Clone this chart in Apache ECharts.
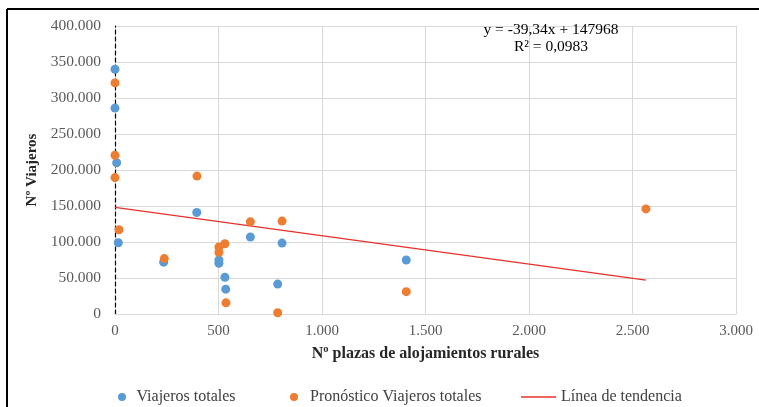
<!DOCTYPE html>
<html>
<head>
<meta charset="utf-8">
<script src="https://cdn.jsdelivr.net/npm/echarts@6/dist/echarts.min.js"></script>
<style>
html,body{margin:0;padding:0;background:#fff;}
#chart{width:759px;height:407px;}
</style>
</head>
<body>
<div id="chart"></div>
<script>
// Data
const viajerosX = [0, 0, 8, 16, 395, 235, 502, 502, 531, 535, 654, 807, 786, 1407];
const viajerosY = [340000, 286000, 210000, 99000, 141000, 72000, 75000, 70500, 51000, 34500, 107000, 98500, 41500, 75000];
const pronosticoX = [0, 0, 0, 396, 19, 238, 502, 502, 531, 536, 654, 807, 786, 1407, 2565];
const pronosticoY = [321000, 220500, 189500, 191500, 117000, 77000, 93000, 85500, 97500, 15500, 128000, 129000, 1800, 31000, 146000];
const trendSlope = -39.34;
const trendIntercept = 147968;
const xTicks = { min: 0, max: 3000, interval: 500 };
const yTicks = { min: 0, max: 400000, interval: 50000 };
const equationLines = ['y = -39,34x + 147968', 'R² = 0,0983'];

const fmt = v => String(Math.round(v)).replace(/\B(?=(\d{3})+(?!\d))/g, '.');
const zip = (a, b) => a.map((v, i) => [v, b[i]]);
const trendXs = [0, Math.max(...pronosticoX)];
const trendData = trendXs.map(x => [x, trendSlope * x + trendIntercept]);

const serif = '"Liberation Serif", "DejaVu Serif", serif';
const chart = echarts.init(document.getElementById('chart'), null, { renderer: 'canvas' });

const legendBase = {
  top: 384,
  textStyle: { fontFamily: serif, fontSize: 16, color: '#404040' },
  selectedMode: false
};

chart.setOption({
  animation: false,
  backgroundColor: '#fff',
  grid: { left: 115, right: 23, top: 26, bottom: 93, containLabel: false },
  xAxis: {
    type: 'value',
    min: xTicks.min, max: xTicks.max, interval: xTicks.interval,
    name: 'Nº plazas de alojamientos rurales',
    nameLocation: 'middle', nameGap: 32,
    nameTextStyle: { fontFamily: serif, fontSize: 16, fontWeight: 'bold', color: '#262626' },
    axisLine: { show: true, onZero: false, lineStyle: { color: '#d9d9d9', width: 1 } },
    axisTick: { show: false },
    axisLabel: { formatter: fmt, fontFamily: serif, fontSize: 15, color: '#595959', margin: 10 },
    splitLine: { show: true, lineStyle: { color: '#d9d9d9', width: 1 } }
  },
  yAxis: {
    type: 'value',
    min: yTicks.min, max: yTicks.max, interval: yTicks.interval,
    name: 'Nº Viajeros',
    nameLocation: 'middle', nameGap: 73,
    nameTextStyle: { fontFamily: serif, fontSize: 15, fontWeight: 'bold', color: '#262626' },
    axisLine: { show: true, onZero: false, lineStyle: { color: '#000', width: 1.2, type: [4, 3] } },
    axisTick: { show: false },
    axisLabel: { formatter: fmt, fontFamily: serif, fontSize: 15.5, color: '#595959', margin: 14 },
    splitLine: { show: true, lineStyle: { color: '#d9d9d9', width: 1 } }
  },
  legend: [
    Object.assign({}, legendBase, { left: 113, itemWidth: 19, itemHeight: 8, data: [{ name: 'Viajeros totales', icon: 'circle' }] }),
    Object.assign({}, legendBase, { left: 285, itemWidth: 22, itemHeight: 8, data: [{ name: 'Pronóstico Viajeros totales', icon: 'circle' }] }),
    Object.assign({}, legendBase, { left: 516, itemWidth: 35, itemHeight: 1.5, data: [{ name: 'Línea de tendencia', icon: 'rect' }] })
  ],
  graphic: [
    { type: 'line', shape: { x1: 7, y1: 9, x2: 759, y2: 9 }, style: { stroke: '#000', lineWidth: 2 }, silent: true },
    { type: 'line', shape: { x1: 7, y1: 9, x2: 7, y2: 407 }, style: { stroke: '#000', lineWidth: 2 }, silent: true },
    {
      type: 'text', position: [551, 21], silent: true, z: 100,
      style: {
        text: equationLines.join('\n'), textAlign: 'center', textVerticalAlign: 'top',
        font: '15.5px ' + serif, fill: '#000', lineHeight: 17
      }
    }
  ],
  series: [
    {
      name: 'Línea de tendencia', type: 'line', data: trendData,
      symbol: 'none', lineStyle: { color: '#e8302a', width: 1.2 }, itemStyle: { color: '#e8302a' }, z: 3
    },
    {
      name: 'Viajeros totales', type: 'scatter', data: zip(viajerosX, viajerosY),
      symbolSize: 9, itemStyle: { color: '#5b9bd5', opacity: 1 }, z: 4
    },
    {
      name: 'Pronóstico Viajeros totales', type: 'scatter', data: zip(pronosticoX, pronosticoY),
      symbolSize: 9, itemStyle: { color: '#ed7d31', opacity: 1 }, z: 5
    }
  ]
});
</script>
</body>
</html>
